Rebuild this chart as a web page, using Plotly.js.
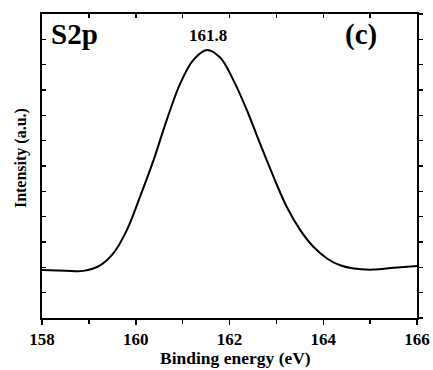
<!DOCTYPE html>
<html><head><meta charset="utf-8">
<script src="https://cdn.plot.ly/plotly-3.0.1.min.js"></script>
<style>body{margin:0;background:#fff}#c{width:433px;height:370px}</style>
</head><body><div id="c"></div>
<script>
const bindingEnergy = [158.0,158.5,158.88,159.24,159.52,159.81,160.09,160.38,160.66,160.95,161.23,161.52,161.80,162.08,162.37,162.65,162.94,163.22,163.51,163.79,164.08,164.36,164.65,165.07,165.50,165.93,166.0];
const intensity     = [1.89,1.87,1.86,2.08,2.55,3.47,4.78,6.23,7.81,9.26,10.19,10.58,10.28,9.40,8.21,6.89,5.57,4.39,3.47,2.81,2.35,2.08,1.95,1.91,1.98,2.04,2.05];
const xTickVals = [158,160,162,164,166];
const peakLabel = "161.8";
const panelLabel = "(c)";
const orbitalLabel = "S2p";
const xTitle = "Binding energy (eV)";
const yTitle = "Intensity (a.u.)";

const F = "Liberation Serif";
const b = s => '<b>' + s + '</b>';
const data = [{x: bindingEnergy, y: intensity, type: 'scatter', mode: 'lines',
  line: {color: '#000', width: 2, shape: 'spline'}, hoverinfo: 'skip', showlegend: false}];
const layout = {
  width: 433, height: 370,
  margin: {l: 42, r: 16, t: 14, b: 52},
  paper_bgcolor: '#fff', plot_bgcolor: '#fff',
  font: {family: F, color: '#000'},
  xaxis: {range: [158, 166], tickvals: xTickVals, ticktext: xTickVals.map(v => b(v)),
    ticks: 'outside', ticklen: 5, tickwidth: 1.5, tickcolor: '#000',
    minor: {dtick: 1, ticks: 'outside', ticklen: 4, tickwidth: 1.5, tickcolor: '#000'},
    showline: true, linewidth: 2, linecolor: '#000', showgrid: false, zeroline: false,
    tickfont: {family: F, size: 17}},
  xaxis2: {range: [158, 166], overlaying: 'x', side: 'top', dtick: 1, ticks: 'inside',
    ticklen: 4, tickwidth: 1.5, tickcolor: '#000', showticklabels: false,
    showline: true, linewidth: 2, linecolor: '#000', showgrid: false, zeroline: false},
  yaxis: {range: [0, 12], dtick: 1, ticks: 'inside', ticklen: 4, tickwidth: 1.5, tickcolor: '#000',
    showticklabels: false, showline: true, linewidth: 2, linecolor: '#000', showgrid: false, zeroline: false},
  yaxis2: {range: [0, 12], overlaying: 'y', side: 'right', dtick: 1, ticks: 'outside',
    ticklen: 4, tickwidth: 1.5, tickcolor: '#000', showticklabels: false,
    showline: true, linewidth: 2, linecolor: '#000', showgrid: false, zeroline: false},
  annotations: [
    {text: b(xTitle), xref: 'paper', yref: 'paper', x: 0.515, y: -0.172, xanchor: 'center', yanchor: 'bottom',
     showarrow: false, font: {family: F, size: 17.5}},
    {text: b(yTitle), xref: 'paper', yref: 'paper', x: -0.056, y: 0.526, xanchor: 'center', yanchor: 'middle',
     textangle: -90, showarrow: false, font: {family: F, size: 16}},
    {text: b(orbitalLabel), xref: 'paper', yref: 'paper', x: 0.018, y: 0.995, xanchor: 'left', yanchor: 'top',
     showarrow: false, font: {family: F, size: 29}},
    {text: b(panelLabel), xref: 'paper', yref: 'paper', x: 0.851, y: 0.995, xanchor: 'center', yanchor: 'top',
     showarrow: false, font: {family: F, size: 29}},
    {text: b(peakLabel), xref: 'x', yref: 'y', x: 161.55, y: 10.7, xanchor: 'center', yanchor: 'bottom',
     showarrow: false, font: {family: F, size: 17}}
  ]
};
const data2 = data.concat([{x: [158], y: [0], xaxis: 'x2', yaxis: 'y2', mode: 'markers',
  marker: {opacity: 0}, hoverinfo: 'skip', showlegend: false}]);
Plotly.newPlot('c', data2, layout, {staticPlot: true});
</script></body></html>
